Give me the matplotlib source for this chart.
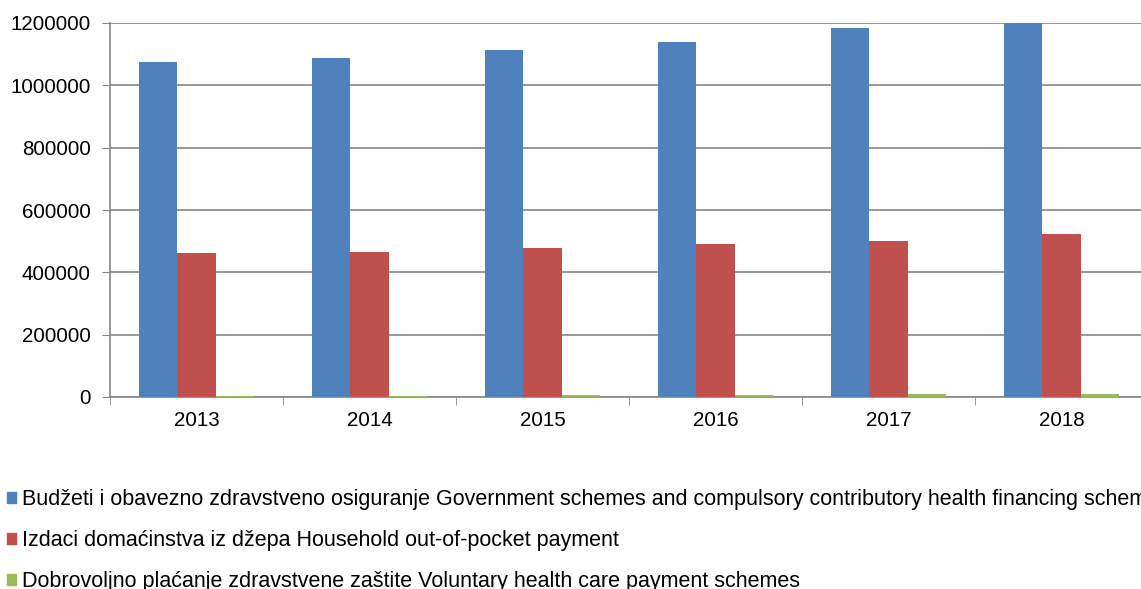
import numpy as np
import matplotlib.pyplot as plt
from matplotlib.patches import Patch

years = ["2013", "2014", "2015", "2016", "2017", "2018"]
government = [1074000, 1088000, 1113000, 1139000, 1184000, 1205000]
household = [461000, 464000, 478000, 490000, 500000, 522000]
voluntary = [3000, 3500, 5000, 6500, 8500, 9500]

labels = [
    "Budžeti i obavezno zdravstveno osiguranje Government schemes and compulsory contributory health financing schemes",
    "Izdaci domaćinstva iz džepa Household out-of-pocket payment",
    "Dobrovoljno plaćanje zdravstvene zaštite Voluntary health care payment schemes",
]
colors = ["#4f81bd", "#c0504d", "#9bbb59"]

plt.rcParams["font.family"] = ["Liberation Sans", "DejaVu Sans"]

fig = plt.figure(figsize=(11.41, 5.89), dpi=100)
# axes runs a bit past the right edge, like the cropped original
ax = fig.add_axes([110 / 1141, 1 - 397 / 589, 1038 / 1141, 374 / 589])

x = np.arange(len(years))
w = 0.222
for i, (vals, c) in enumerate(zip([government, household, voluntary], colors)):
    ax.bar(x + (i - 1) * w, vals, width=w, color=c, zorder=3)

ax.set_xlim(-0.5, len(years) - 0.5)
ax.set_ylim(0, 1200000)
ax.set_yticks(np.arange(0, 1200001, 200000))
ax.set_yticklabels([str(v) for v in range(0, 1200001, 200000)])
ax.set_xticks(x)
ax.set_xticklabels(years)
ax.set_xticks(np.arange(-0.5, len(years), 1), minor=True)

ax.grid(axis="y", color="#868686", linewidth=1.2, zorder=0)
for s in ["top", "right"]:
    ax.spines[s].set_visible(False)
for s in ["left", "bottom"]:
    ax.spines[s].set_color("#868686")
    ax.spines[s].set_linewidth(1.2)

ax.tick_params(axis="y", length=6, color="#868686", labelsize=14.8, pad=8)
ax.tick_params(axis="x", which="major", length=0, labelsize=14.8, pad=10)
ax.tick_params(axis="x", which="minor", length=6, color="#868686")

handles = [Patch(color=c) for c in colors]
fig.legend(handles, labels, loc="upper left", bbox_to_anchor=(0.002, 1 - 485 / 589),
           frameon=False, fontsize=15.5, handlelength=0.42, handleheight=0.42,
           handletextpad=0.3, labelspacing=0.92, borderaxespad=0, borderpad=0.2)

fig.savefig("out.png", dpi=100)
